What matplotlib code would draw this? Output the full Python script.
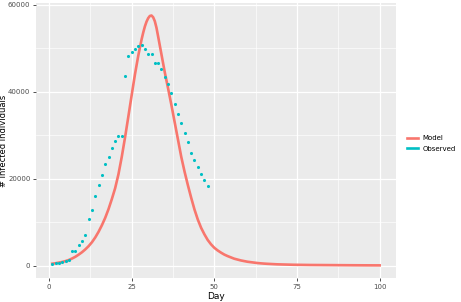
import numpy as np
import matplotlib
matplotlib.use('Agg')
import matplotlib.pyplot as plt
from matplotlib.lines import Line2D

# Observed infections, days 1..48
obs_day = list(range(1, 49))
obs_val = [400, 500, 600, 750, 1000, 1400, 3450, 3450, 4750, 5700,
           7000, 10700, 12750, 15900, 18650, 20900, 23300, 25000, 27100, 28700,
           29700, 29700, 43600, 48300, 49000, 49900, 50600, 50800, 49800, 48600,
           48700, 46500, 46500, 45200, 43400, 41800, 39700, 37200, 34900, 32800,
           30600, 28400, 26000, 24200, 22700, 21150, 19600, 18200]

# Model curve, days 1..100 (half-day steps near the peak)
model_day = list(range(1, 29)) + [28.5, 29, 29.5, 30, 30.5, 31, 31.5, 32, 32.5] + list(range(33, 101))
model_val = [450, 550, 700, 850, 1050, 1300, 1650, 2050, 2550, 3100,
             3750, 4500, 5400, 6500, 7800, 9300, 11000, 13000, 15300, 17800,
             21000, 25000, 29500, 34300, 39200, 44000, 48300, 52000,
             53600, 55000, 56100, 56900, 57400, 57500, 57100, 56200, 54700,
             52700, 48600, 44500, 40800, 37000, 33000, 29000, 25000,
             21600, 18500, 15600, 12900, 10600, 8700, 7200, 5900, 4900, 4100,
             3500, 3000, 2550, 2200, 1900, 1600, 1400, 1200, 1050, 900,
             800, 700, 600, 530, 470, 420, 380, 340, 300, 280,
             260, 240, 220, 200, 190, 180, 170, 160, 150, 145,
             140, 135, 130, 125, 120, 115, 110, 105, 100, 95,
             90, 86, 82, 78, 74, 70, 67, 64, 62, 60]

red = '#F8766D'
teal = '#00BFC4'

fig = plt.figure(figsize=(4.61, 3.02), dpi=100)
ax = fig.add_axes([0.078, 0.079, 0.781, 0.911])
ax.set_facecolor('#EBEBEB')

ax.plot(model_day, model_val, color=red, lw=1.9, zorder=3)
ax.scatter(obs_day, obs_val, s=5, color=teal, zorder=4, linewidths=0)

ax.set_xlim(-3.95, 104.95)
ax.set_ylim(-2875, 60375)
ax.set_xticks([0, 25, 50, 75, 100])
ax.set_yticks([0, 20000, 40000, 60000])
ax.set_xticks([12.5, 37.5, 62.5, 87.5], minor=True)
ax.set_yticks([10000, 30000, 50000], minor=True)
ax.grid(which='major', color='white', lw=0.9)
ax.grid(which='minor', color='white', lw=0.45)
ax.set_axisbelow(True)
for s in ax.spines.values():
    s.set_visible(False)
ax.tick_params(which='major', length=2, width=0.6, color='#333333',
               labelsize=5, labelcolor='#4D4D4D', pad=2)
ax.tick_params(which='minor', length=0)

ax.set_xlabel('Day', fontsize=6.5, color='black', labelpad=2)
ax.set_ylabel('# infected individuals', fontsize=6, color='black')
ax.yaxis.set_label_coords(-0.078, 0.5)

handles = [Line2D([], [], color=red, lw=1.9), Line2D([], [], color=teal, lw=1.9)]
fig.legend(handles, ['Model', 'Observed'], loc='center left',
           bbox_to_anchor=(0.87, 0.525), frameon=False, fontsize=5,
           handlelength=1.6, handletextpad=0.6, labelspacing=0.6)

fig.savefig('out.png', dpi=100)
